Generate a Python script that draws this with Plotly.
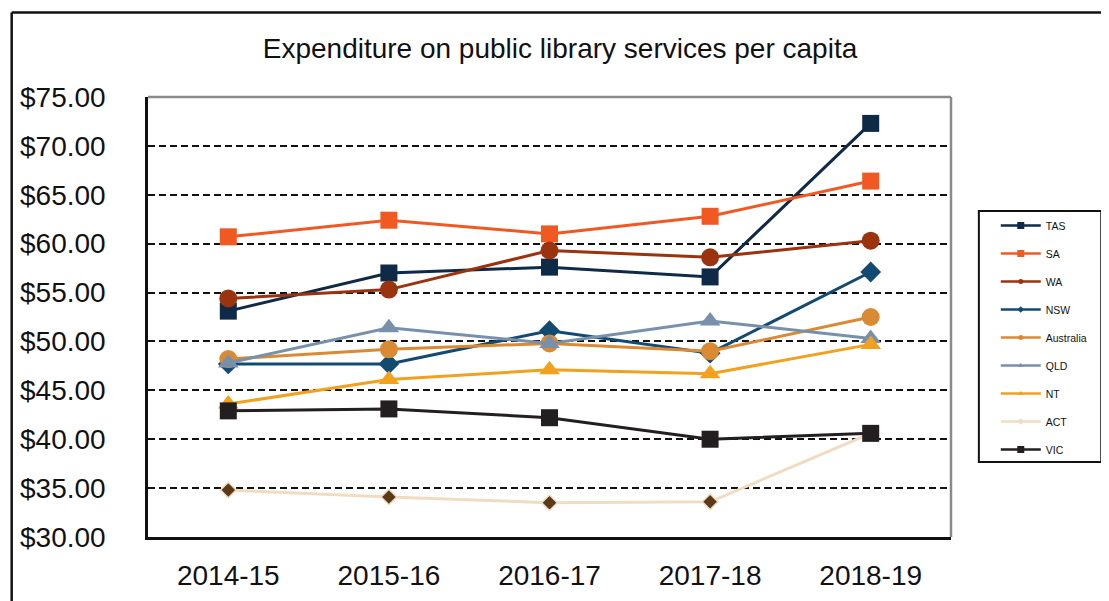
import plotly.graph_objects as go

years = ["2014-15", "2015-16", "2016-17", "2017-18", "2018-19"]
tas = [53.1, 57.0, 57.6, 56.6, 72.3]
sa = [60.7, 62.4, 61.0, 62.8, 66.4]
wa = [54.4, 55.3, 59.3, 58.6, 60.3]
nsw = [47.7, 47.7, 51.1, 48.8, 57.1]
australia = [48.2, 49.2, 49.8, 49.0, 52.5]
qld = [47.8, 51.4, 49.8, 52.1, 50.3]
nt = [43.6, 46.1, 47.1, 46.7, 49.7]
act = [34.8, 34.1, 33.5, 33.6, 40.6]
vic = [42.9, 43.1, 42.2, 40.0, 40.6]

y_ticks = [30, 35, 40, 45, 50, 55, 60, 65, 70, 75]
y_tick_labels = ["$%.2f" % v for v in y_ticks]

series = [
    # name, values, line colour, marker symbol, marker size, marker colour, outline colour
    ("TAS", tas, "#0f2a47", "square", 17, "#0f2a47", "#0f2a47"),
    ("SA", sa, "#f05a22", "square", 17, "#f05a22", "#f05a22"),
    ("WA", wa, "#9b330f", "circle", 18, "#9b330f", "#9b330f"),
    ("NSW", nsw, "#134a72", "diamond", 16, "#134a72", "#134a72"),
    ("Australia", australia, "#d98a33", "circle", 18, "#d98a33", "#d98a33"),
    ("QLD", qld, "#7890aa", "triangle-up", 18, "#7890aa", "#7890aa"),
    ("NT", nt, "#f2a11f", "triangle-up", 18, "#f2a11f", "#f2a11f"),
    ("ACT", act, "#f1dcc2", "diamond", 12, "#5b3a1a", "#f1dcc2"),
    ("VIC", vic, "#231f20", "square", 17, "#231f20", "#231f20"),
]

fig = go.Figure()
for name, vals, lc, sym, size, mc, oc in series:
    fig.add_trace(go.Scatter(
        x=years, y=vals, name=name, mode="lines+markers",
        legendgroup=name, showlegend=False,
        line=dict(color=lc, width=3),
        marker=dict(symbol=sym, size=size, color=mc,
                    line=dict(color=oc, width=1.5 if name == "ACT" else 0)),
        hovertemplate=name + " %{x}: $%{y:.2f}<extra></extra>",
    ))
# legend entries (small markers as in the reference)
for name, vals, lc, sym, size, mc, oc in series:
    fig.add_trace(go.Scatter(
        x=[None], y=[None], name=name, mode="lines+markers",
        legendgroup=name, showlegend=True,
        line=dict(color=lc, width=2.5),
        marker=dict(symbol=sym, size=7 if sym == "square" else 5,
                    color=mc if name != "ACT" else lc),
    ))

# the page adds an 8px body margin, so figure pixels = reference pixels - 8
fig.update_layout(
    width=1109, height=601,
    margin=dict(l=136, r=166, t=89, b=72),
    paper_bgcolor="white", plot_bgcolor="white",
    font=dict(family="Liberation Sans, Arial, sans-serif", color="#111111"),
    title=dict(text="Expenditure on public library services per capita",
               x=(560 - 8) / 1109, xref="container", xanchor="center",
               y=1 - 40 / 601, yref="container", yanchor="middle",
               font=dict(size=28, color="#111111")),
    legend=dict(x=(996 - 144) / 807, xanchor="left", y=0.741, yanchor="top",
                borderwidth=0, bgcolor="rgba(0,0,0,0)",
                font=dict(size=10.5, color="#111111"),
                traceorder="grouped", tracegroupgap=9,
                itemwidth=40),
    showlegend=True,
)
fig.update_xaxes(
    type="category", range=[-0.5, 4.5], showgrid=False,
    showline=True, linecolor="#111111", linewidth=2.5,
    ticks="", tickfont=dict(size=28, color="#111111"),
    ticklabelstandoff=12,
)
fig.update_yaxes(
    range=[30, 75], tickvals=y_ticks, ticktext=y_tick_labels,
    showgrid=True, gridcolor="#111111", gridwidth=2, griddash="7px,4px",
    showline=True, linecolor="#111111", linewidth=2.5,
    ticks="", tickfont=dict(size=28, color="#111111"),
    ticklabelstandoff=34, zeroline=False,
)
# grey top and right border of the plot area
fig.add_shape(type="line", xref="paper", yref="paper", x0=0, x1=1, y0=1, y1=1,
              line=dict(color="#8a8a8a", width=2.5), layer="above")
fig.add_shape(type="line", xref="paper", yref="paper", x0=1, x1=1, y0=0, y1=1,
              line=dict(color="#8a8a8a", width=2.5), layer="above")
# legend box
fig.add_shape(type="rect", xref="paper", yref="paper",
              x0=(979 - 144) / 807, x1=(1102 - 144) / 807,
              y0=(537 - 462) / 440, y1=(537 - 211) / 440,
              line=dict(color="#111111", width=2), layer="below")
# outer chart border (top and left edges visible in the frame)
bx0 = (7 - 144) / 807
bx1 = (1125 - 144) / 807
by0 = (537 - 620) / 440
by1 = (537 - 12.5) / 440
fig.add_shape(type="line", xref="paper", yref="paper", x0=bx0, x1=bx1, y0=by1, y1=by1,
              line=dict(color="#111111", width=2.5), layer="below")
fig.add_shape(type="line", xref="paper", yref="paper", x0=bx0, x1=bx0, y0=by0, y1=by1,
              line=dict(color="#111111", width=2.5), layer="below")

fig.write_html("out.html")
